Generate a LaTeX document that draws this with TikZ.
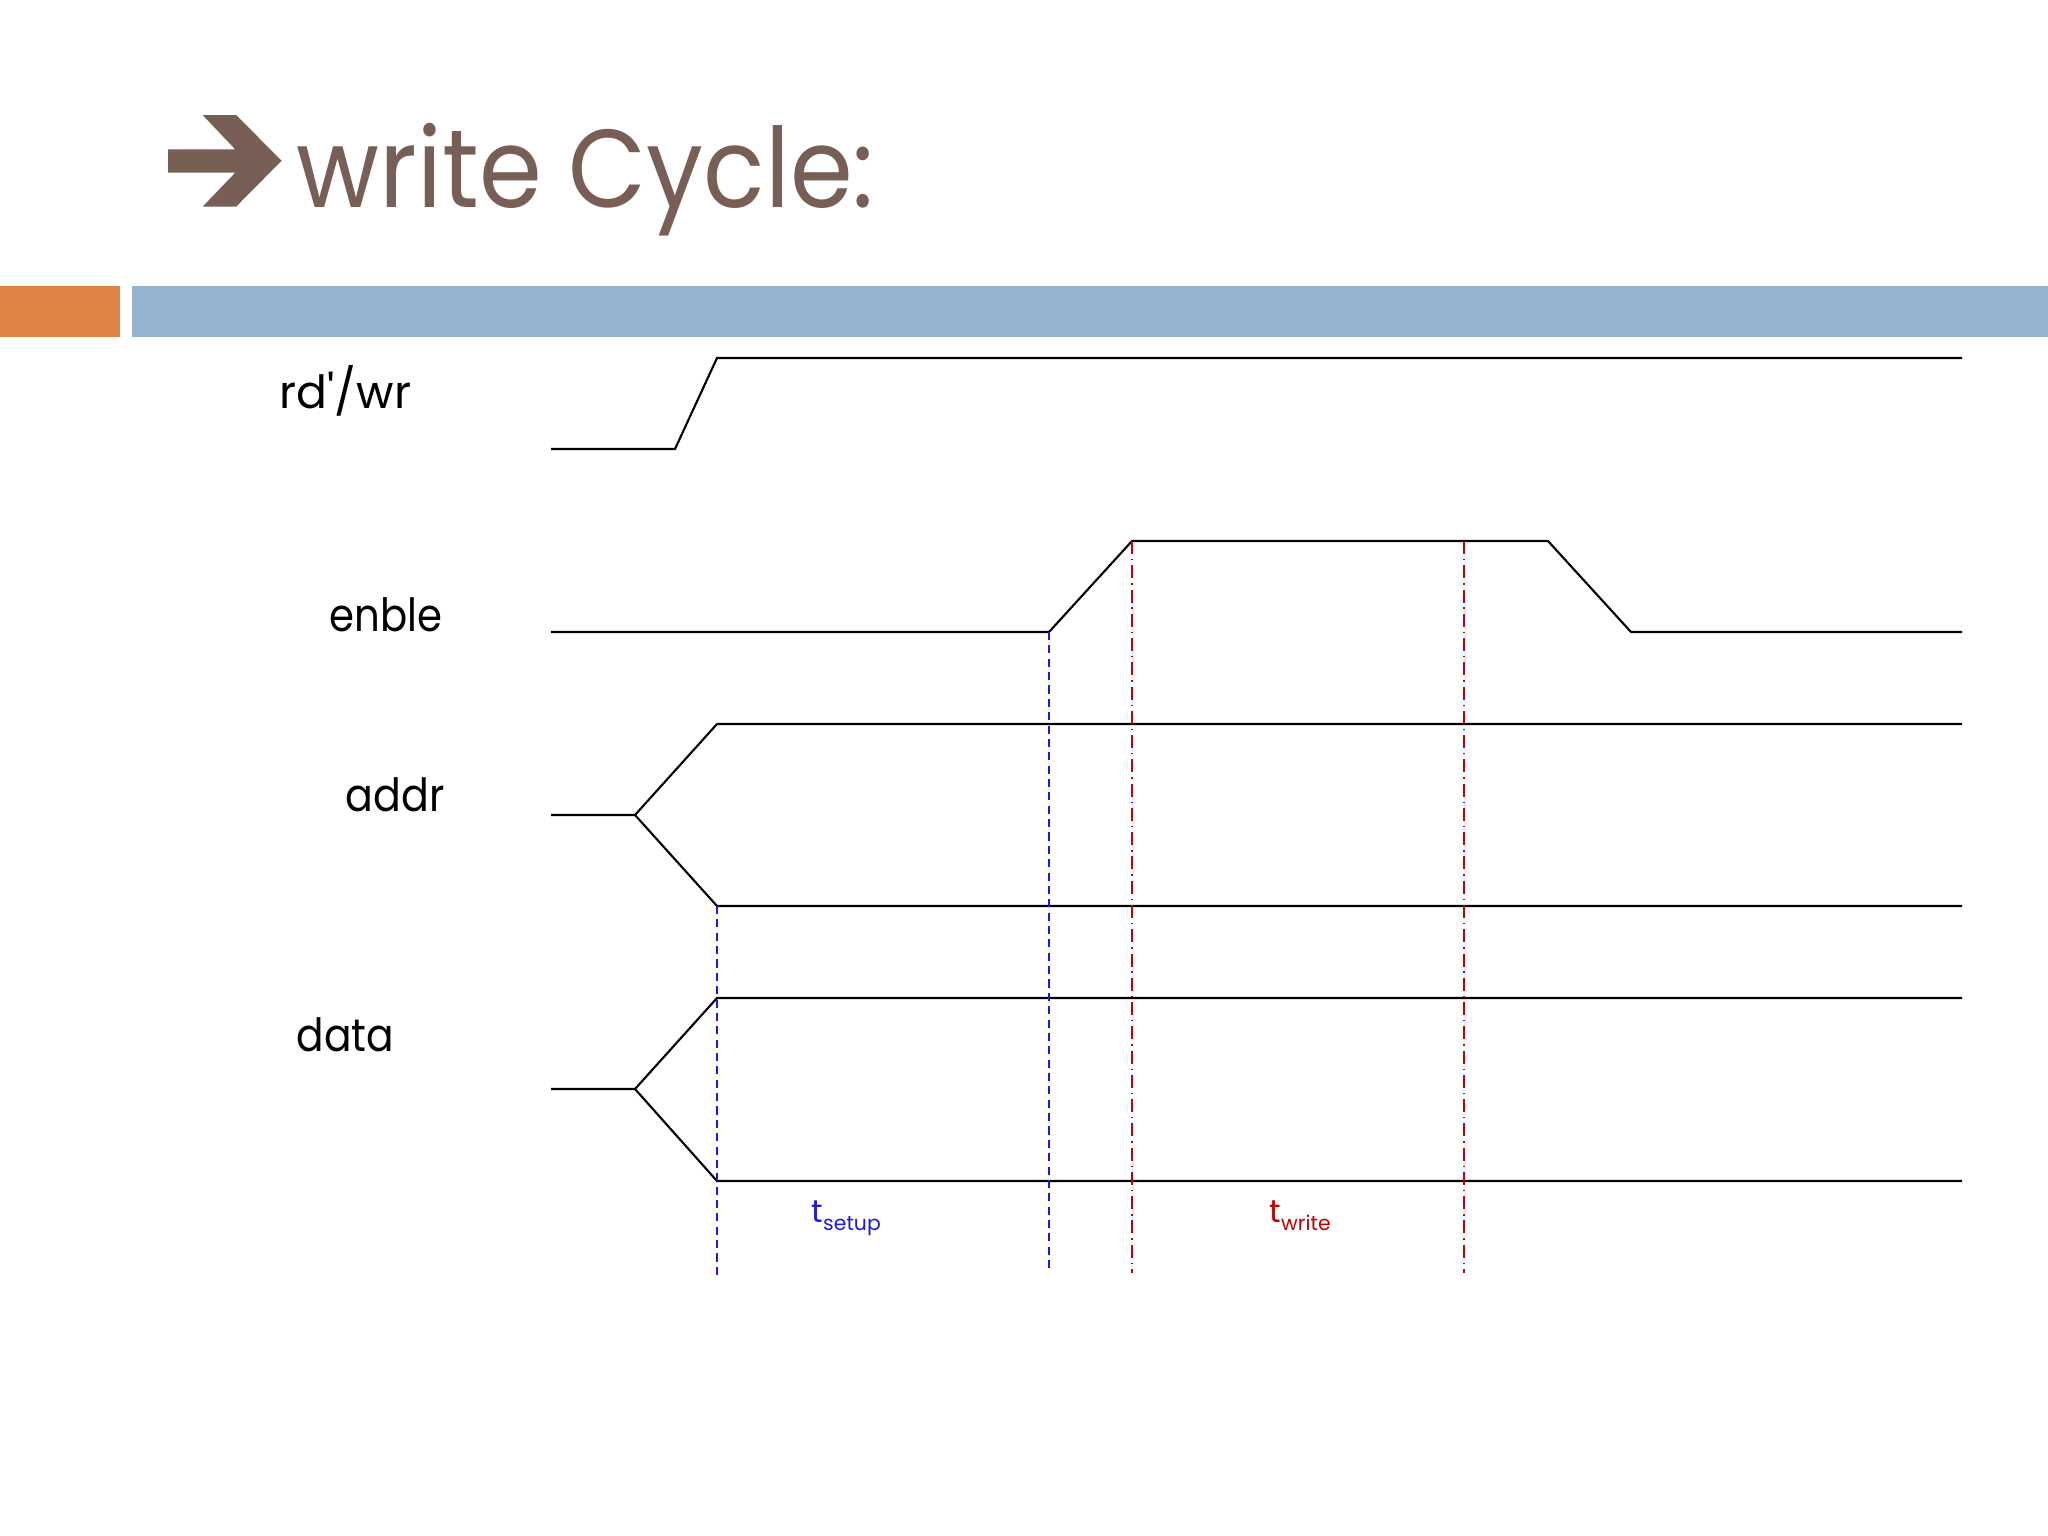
\documentclass[tikz,border=0pt]{standalone}
\usepackage{fontspec}
\setmainfont{Poppins}
\definecolor{titlebrown}{HTML}{775F55}
\definecolor{barorange}{HTML}{DE8344}
\definecolor{barblue}{HTML}{95B4D0}
\definecolor{setupblue}{HTML}{1A1AE0}
\definecolor{writered}{HTML}{C40000}
\begin{document}
\begin{tikzpicture}[x=0.01cm,y=-0.01cm,
  sig/.style={black,line width=0.6pt,line join=miter},
  setupline/.style={setupblue,line width=0.6pt,dash pattern=on 2.3pt off 1.5pt},
  writeline/.style={writered,line width=0.6pt,dash pattern=on 3.7pt off 1.4pt on 0.4pt off 1.4pt},
  lbl/.style={anchor=base west,inner sep=0pt,font=\fontsize{13}{15}\selectfont},
  tlbl/.style={anchor=base west,inner sep=0pt},
]
\useasboundingbox (0,0) rectangle (2048,1536);
\fill[white] (0,0) rectangle (2048,1536);
% header bars
\fill[barorange] (0,286) rectangle (120,337);
\fill[barblue] (132,286) rectangle (2048,337);
% title arrow
\fill[titlebrown] (202.6,115) -- (236.1,115) -- (281.6,160.7) -- (236.1,206.7) -- (202.6,206.7)
  -- (235.2,172.7) -- (168.2,172.7) -- (168.2,149.3) -- (235.2,149.3) -- cycle;
\node[anchor=base west,inner sep=0pt,text=titlebrown,font=\fontsize{31.5}{38}\selectfont] (title) at (296,207) {\scalebox{0.913}[1]{write Cycle:}};
% labels
\node[lbl] (lrw) at (279,408) {rd\textquotesingle/wr};
\node[lbl] (len) at (329,631) {\scalebox{0.88}[1]{enble}};
\node[lbl] (lad) at (345,811) {\scalebox{0.9}[1]{addr}};
\node[lbl] (lda) at (296,1051) {\scalebox{0.89}[1]{data}};
% signals
\draw[sig] (551,449) -- (675,449) -- (717,358) -- (1962,358);
\draw[sig] (551,632) -- (1049,632) -- (1132,541) -- (1548,541) -- (1631,632) -- (1962,632);
\draw[sig] (551,815) -- (635,815) -- (717,724) -- (1962,724);
\draw[sig] (635,815) -- (717,906) -- (1962,906);
\draw[sig] (551,1089) -- (635,1089) -- (717,998) -- (1962,998);
\draw[sig] (635,1089) -- (717,1181) -- (1962,1181);
% timing markers
\draw[setupline] (717,906) -- (717,1277);
\draw[setupline] (1049,632) -- (1049,1268);
\draw[writeline] (1132,541) -- (1132,1273);
\draw[writeline] (1464,541) -- (1464,1273);
\node[tlbl,text=setupblue] (tsetup) at (811,1222) {{\fontsize{9}{10}\selectfont t}\raisebox{-2.3pt}{\fontsize{5.8}{7}\selectfont setup}};
\node[tlbl,text=writered] (twrite) at (1269,1222) {{\fontsize{9}{10}\selectfont t}\raisebox{-2.3pt}{\fontsize{5.8}{7}\selectfont write}};
\end{tikzpicture}
\end{document}
